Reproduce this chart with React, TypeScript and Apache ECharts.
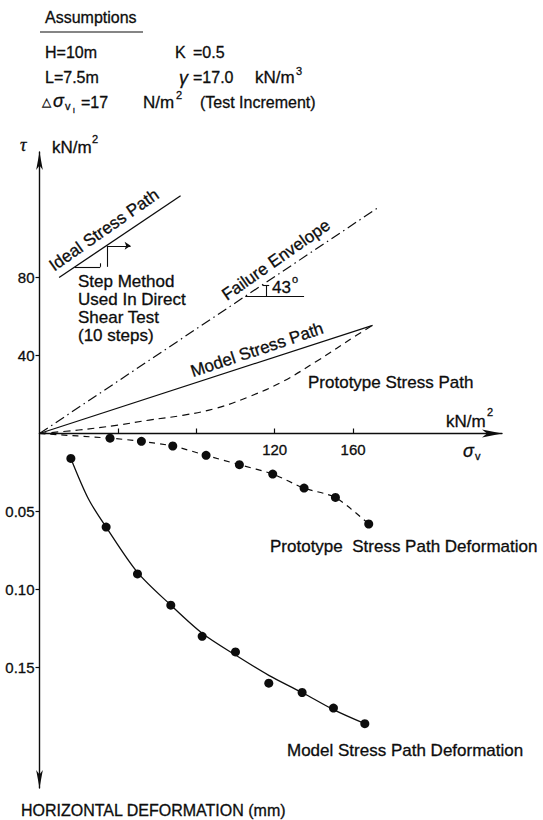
import { useEffect, useRef } from "react";
import * as echarts from "echarts";

// ---------- data ----------
const stressTicks = [40, 80];
const sigmaTicks = [40, 80, 120, 160];
const sigmaLabels = [120, 160];
const deformTicks = [0.05, 0.1, 0.15];

const idealPath = [[10, 80], [72, 122]];
const failureEnvelope = [[0, 0], [173, 116]];
const modelPath = [[0, 0], [170, 55.5]];
const prototypePath = [
  [0, 0], [20, 1.8], [40, 4.3], [56, 6.9], [73, 9.3], [90, 12.9],
  [107, 18.9], [124, 26.6], [141, 36.8], [162, 50.5], [170, 55.5],
];

const stepSegments = [
  [[18, 85.5], [31, 85.5]],
  [[31, 85.5], [31, 87.3]],
  [[34.4, 85.5], [34.4, 96.3]],
];
const stepArrow = [[34.4, 96.3], [46.5, 96.3]];
const angleSegments = [
  [[105, 70.5], [135, 70.5]],
  [[115.5, 70.5], [115.5, 76]],
  [[113.8, 76], [117.2, 76]],
];

const protoDefSigma = [36, 52, 68, 85, 102, 119, 135, 151, 168];
const protoDefValues = [0.003, 0.005, 0.008, 0.014, 0.02, 0.026, 0.035, 0.041, 0.058];

const modelDefSigma = [16, 34, 50, 67, 83, 100, 117, 134, 150, 166];
const modelDefValues = [0.016, 0.06, 0.09, 0.11, 0.13, 0.14, 0.16, 0.166, 0.176, 0.186];
const modelDefCurve = [
  [16, 0.016], [25, 0.042], [34, 0.06], [50, 0.089],
  [67, 0.11], [83, 0.128], [100, 0.142], [117, 0.155], [134, 0.166], [150, 0.177], [166, 0.186],
];

const F = "'Liberation Sans', Arial, Helvetica, sans-serif";
const INK = "#0d0d0d";

type T = { t: string; x: number; y: number; s?: number; it?: boolean; rot?: number; c?: boolean; fam?: string };
const texts: T[] = [
  { t: "Assumptions", x: 45, y: 17, s: 16 },
  { t: "H=10m", x: 45, y: 52, s: 16 },
  { t: "K", x: 175, y: 52, s: 16 },
  { t: "=0.5", x: 193, y: 52, s: 16 },
  { t: "L=7.5m", x: 45, y: 77, s: 16 },
  { t: "γ", x: 179, y: 78, s: 18, it: true },
  { t: "=17.0", x: 193, y: 77, s: 16 },
  { t: "kN/m", x: 255, y: 77, s: 17 },
  { t: "3", x: 296, y: 71, s: 11 },
  { t: "△", x: 42, y: 102, s: 12 },
  { t: "σ", x: 53, y: 101, s: 18, it: true },
  { t: "v", x: 65, y: 106, s: 11 },
  { t: "i", x: 73, y: 110, s: 8 },
  { t: "=17", x: 81, y: 102, s: 16 },
  { t: "N/m", x: 143, y: 102, s: 17 },
  { t: "2", x: 176, y: 95, s: 11 },
  { t: "(Test Increment)", x: 200, y: 102, s: 16 },
  { t: "τ", x: 20, y: 145, s: 18, it: true, fam: "'Liberation Serif', serif" },
  { t: "kN/m", x: 52, y: 147 },
  { t: "2", x: 92, y: 139, s: 11 },
  { t: "Ideal Stress Path", x: 104, y: 230, rot: 35, c: true },
  { t: "Step Method", x: 78, y: 281 },
  { t: "Used In Direct", x: 78, y: 299 },
  { t: "Shear Test", x: 78, y: 317 },
  { t: "(10 steps)", x: 78, y: 335 },
  { t: "Failure Envelope", x: 276, y: 260, rot: 35, c: true },
  { t: "43", x: 272, y: 287 },
  { t: "o", x: 292, y: 279, s: 11 },
  { t: "Model Stress Path", x: 257, y: 350, rot: 18.6, c: true },
  { t: "Prototype Stress Path", x: 308, y: 382 },
  { t: "kN/m", x: 446, y: 421 },
  { t: "2", x: 487, y: 412, s: 11 },
  { t: "σ", x: 463, y: 451, s: 18, it: true },
  { t: "v", x: 475, y: 456, s: 11 },
  { t: "Prototype  Stress Path Deformation", x: 270, y: 546 },
  { t: "Model Stress Path Deformation", x: 287, y: 750 },
  { t: "HORIZONTAL DEFORMATION (mm)", x: 21, y: 810, s: 16 },
];

export default function App() {
  const ref = useRef<HTMLDivElement>(null);
  useEffect(() => {
    if (!ref.current) return;
    const chart = echarts.init(ref.current, undefined, { renderer: "svg" });

    const axisLineStyle = { color: INK, width: 1.4 };
    const labelStyle = {
      color: INK,
      fontSize: 15,
      fontFamily: F,
      textBorderColor: INK,
      textBorderWidth: 0.3,
    };

    const graphic: any[] = texts.map((d) => ({
      type: "text",
      x: d.x,
      y: d.y,
      rotation: d.rot ? (d.rot * Math.PI) / 180 : 0,
      silent: true,
      style: {
        text: d.t,
        fill: INK,
        stroke: INK,
        lineWidth: 0.3,
        fontSize: d.s ?? 17,
        fontFamily: d.fam ?? F,
        fontStyle: d.it ? "italic" : "normal",
        align: d.c ? "center" : "left",
        verticalAlign: "middle",
        textAlign: d.c ? "center" : "left",
        textVerticalAlign: "middle",
      },
    }));
    graphic.push({
      type: "line",
      silent: true,
      shape: { x1: 40, y1: 32, x2: 143, y2: 32 },
      style: { stroke: INK, lineWidth: 1.2 },
    });

    const lineBase = {
      type: "line",
      showSymbol: false,
      silent: true,
      xAxisIndex: 0,
      yAxisIndex: 0,
      lineStyle: { color: INK, width: 1.3 },
    };

    chart.setOption({
      animation: false,
      backgroundColor: "#fff",
      grid: [
        { left: 39.5, top: 152, width: 462.5, height: 281.5 },
        { left: 39.5, top: 433.5, width: 462.5, height: 354.5 },
      ],
      xAxis: [
        {
          gridIndex: 0,
          type: "value",
          min: 0,
          max: 236,
          axisLine: {
            show: true,
            onZero: false,
            symbol: ["none", "arrow"],
            symbolSize: [6, 20],
            lineStyle: axisLineStyle,
          },
          axisTick: { show: true, inside: true, length: 5, customValues: sigmaTicks, lineStyle: { color: INK, width: 1.2 } },
          axisLabel: { ...labelStyle, customValues: sigmaLabels, margin: 8 },
          splitLine: { show: false },
        },
        { gridIndex: 1, type: "value", min: 0, max: 236, show: false },
      ],
      yAxis: [
        {
          gridIndex: 0,
          type: "value",
          min: 0,
          max: 144.4,
          axisLine: {
            show: true,
            onZero: false,
            symbol: ["none", "arrow"],
            symbolSize: [5, 18],
            lineStyle: axisLineStyle,
          },
          axisTick: { show: true, length: 4, customValues: stressTicks, lineStyle: { color: INK, width: 1.2 } },
          axisLabel: { ...labelStyle, customValues: stressTicks, margin: 5 },
          splitLine: { show: false },
        },
        {
          gridIndex: 1,
          type: "value",
          inverse: true,
          min: 0,
          max: 0.2272,
          axisLine: {
            show: true,
            onZero: false,
            symbol: ["arrow", "none"],
            symbolSize: [5, 18],
            lineStyle: axisLineStyle,
          },
          axisTick: { show: true, length: 4, customValues: deformTicks, lineStyle: { color: INK, width: 1.2 } },
          axisLabel: {
            ...labelStyle,
            customValues: deformTicks,
            margin: 5,
            formatter: (v: number) => v.toFixed(2),
          },
          splitLine: { show: false },
        },
      ],
      graphic,
      series: [
        { ...lineBase, name: "Ideal Stress Path", data: idealPath },
        { ...lineBase, name: "Failure Envelope", data: failureEnvelope, lineStyle: { color: INK, width: 1.2, type: [10, 4, 1.5, 4] } },
        { ...lineBase, name: "Model Stress Path", data: modelPath },
        { ...lineBase, name: "Prototype Stress Path", data: prototypePath, smooth: 0.4, lineStyle: { color: INK, width: 1.2, type: [7, 5] } },
        {
          type: "lines",
          coordinateSystem: "cartesian2d",
          xAxisIndex: 0,
          yAxisIndex: 0,
          silent: true,
          symbol: "none",
          data: [...stepSegments, ...angleSegments].map((c) => ({ coords: c })),
          lineStyle: { color: INK, width: 1.1, opacity: 1, curveness: 0 },
        },
        {
          type: "lines",
          coordinateSystem: "cartesian2d",
          xAxisIndex: 0,
          yAxisIndex: 0,
          silent: true,
          symbol: ["none", "arrow"],
          symbolSize: 6,
          data: [{ coords: stepArrow }],
          lineStyle: { color: INK, width: 1.1, opacity: 1, curveness: 0 },
        },
        {
          type: "line",
          name: "Prototype Stress Path Deformation",
          xAxisIndex: 1,
          yAxisIndex: 1,
          silent: true,
          smooth: 0.25,
          symbol: "circle",
          symbolSize: 9,
          itemStyle: { color: INK, opacity: 1 },
          lineStyle: { color: INK, width: 1.2, type: [6, 5] },
          data: [
            { value: [0, 0], symbol: "none" },
            ...protoDefSigma.map((s, i) => [s, protoDefValues[i]]),
          ],
        },
        {
          type: "line",
          name: "Model Stress Path Deformation curve",
          xAxisIndex: 1,
          yAxisIndex: 1,
          silent: true,
          smooth: 0.3,
          showSymbol: false,
          lineStyle: { color: INK, width: 1.3 },
          data: modelDefCurve,
        },
        {
          type: "scatter",
          name: "Model Stress Path Deformation",
          xAxisIndex: 1,
          yAxisIndex: 1,
          silent: true,
          symbolSize: 9,
          itemStyle: { color: INK, opacity: 1 },
          data: modelDefSigma.map((s, i) => [s, modelDefValues[i]]),
        },
      ],
    });
    return () => chart.dispose();
  }, []);
  return <div ref={ref} style={{ position: "absolute", left: 0, top: 0, width: 543, height: 820 }} />;
}
